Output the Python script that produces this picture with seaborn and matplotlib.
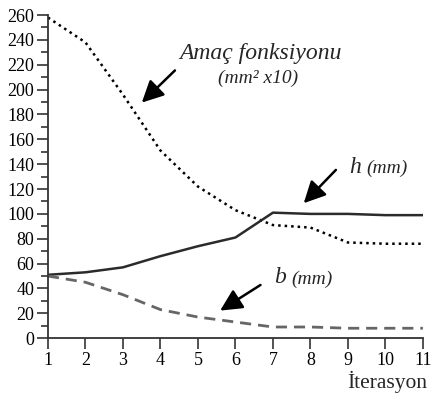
import pandas as pd
import numpy as np
import seaborn as sns
import matplotlib.pyplot as plt
from matplotlib.ticker import MultipleLocator

# values
iterasyon = [1, 2, 3, 4, 5, 6, 7, 8, 9, 10, 11]
amac = [258, 238, 196, 151, 122, 103, 91, 89, 77, 76, 76]
h_mm = [51, 53, 57, 66, 74, 81, 101, 100, 100, 99, 99]
b_mm = [50, 45, 35, 23, 17, 13, 9, 9, 8, 8, 8]

sns.set_style('ticks')
plt.rcParams['font.family'] = ['Liberation Serif', 'DejaVu Serif']

fig = plt.figure(figsize=(4.32, 3.96), dpi=100)
ax = fig.add_axes([0.111, 0.146, 0.868, 0.816])

df = pd.DataFrame({'it': iterasyon, 'amac': amac, 'h': h_mm, 'b': b_mm})

sns.lineplot(data=df, x='it', y='amac', ax=ax, color='black', lw=1.8,
             linestyle=(0, (1, 1.6)))
sns.lineplot(data=df, x='it', y='h', ax=ax, color='#2b2b2b', lw=1.8)
sns.lineplot(data=df, x='it', y='b', ax=ax, color='#666666', lw=2.0,
             linestyle=(0, (4, 2.5)))

ax.set_xlim(1, 11)
ax.set_ylim(0, 260)
ax.set_xticks(iterasyon)
ax.yaxis.set_major_locator(MultipleLocator(20))
ax.yaxis.set_minor_locator(MultipleLocator(10))
ax.tick_params(axis='both', which='major', length=8, width=1.2,
               color='#333333', labelsize=13, pad=2, labelcolor='black')
ax.tick_params(axis='y', which='minor', length=5, width=1.2, color='#333333')
sns.despine(ax=ax)
for s in ['left', 'bottom']:
    ax.spines[s].set_linewidth(1.3)
    ax.spines[s].set_color('#333333')

ax.set_ylabel('')
ax.set_xlabel('')
ax.text(11.1, -40, 'İterasyon', fontsize=15.5, ha='right', va='baseline',
        clip_on=False)

arrow = dict(arrowstyle='-|>,head_length=0.6,head_width=0.3', lw=1.8,
             color='black', mutation_scale=22)
ax.annotate('', xy=(3.45, 188), xytext=(4.44, 217), arrowprops=arrow)
ax.annotate('', xy=(7.77, 107), xytext=(8.73, 137), arrowprops=arrow)
ax.annotate('', xy=(5.53, 21), xytext=(6.73, 44), arrowprops=arrow)

ax.text(6.68, 225, 'Amaç fonksiyonu', style='italic', fontsize=17,
        ha='center', va='baseline')
ax.text(6.6, 205, '(mm² x10)', style='italic', fontsize=14,
        ha='center', va='baseline')
ax.text(9.03, 133, 'h', style='italic', fontsize=17, ha='left', va='baseline')
ax.text(9.48, 133, '(mm)', style='italic', fontsize=14, ha='left', va='baseline')
ax.text(7.03, 44, 'b', style='italic', fontsize=17, ha='left', va='baseline')
ax.text(7.48, 44, '(mm)', style='italic', fontsize=14, ha='left', va='baseline')

fig.savefig('out.png', dpi=100)
